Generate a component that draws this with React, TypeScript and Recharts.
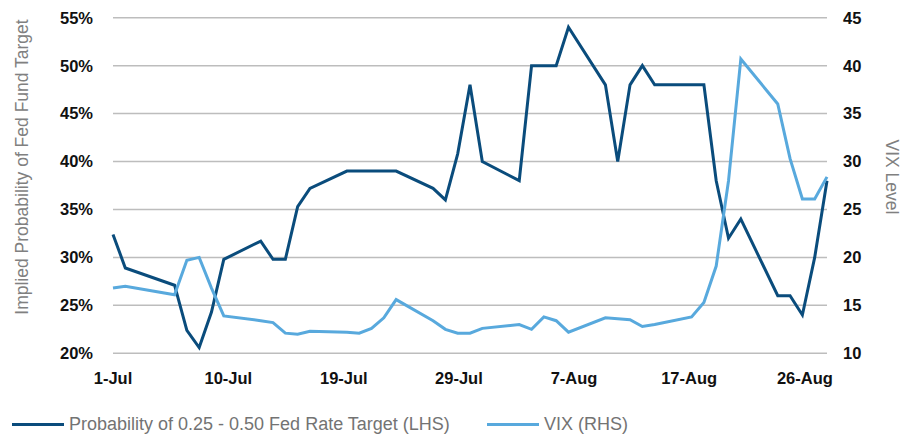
import React from 'react';
import { LineChart, Line, XAxis, YAxis, CartesianGrid, Legend } from 'recharts';

// Business days, 2015
const dates = [
  '2015-07-01', '2015-07-02', '2015-07-06', '2015-07-07', '2015-07-08', '2015-07-09', '2015-07-10',
  '2015-07-13', '2015-07-14', '2015-07-15', '2015-07-16', '2015-07-17',
  '2015-07-20', '2015-07-21', '2015-07-22', '2015-07-23', '2015-07-24',
  '2015-07-27', '2015-07-28', '2015-07-29', '2015-07-30', '2015-07-31',
  '2015-08-03', '2015-08-04', '2015-08-05', '2015-08-06', '2015-08-07',
  '2015-08-10', '2015-08-11', '2015-08-12', '2015-08-13', '2015-08-14',
  '2015-08-17', '2015-08-18', '2015-08-19', '2015-08-20', '2015-08-21',
  '2015-08-24', '2015-08-25', '2015-08-26', '2015-08-27', '2015-08-28',
];

// Probability of 0.25 - 0.50 Fed Rate Target (%), LHS
const fedProbability = [
  32.4, 28.9, 27.1, 22.4, 20.6, 24.3, 29.8,
  31.7, 29.8, 29.8, 35.3, 37.2,
  39.0, 39.0, 39.0, 39.0, 39.0,
  37.2, 36.0, 40.8, 48.0, 40.0,
  38.0, 50.0, 50.0, 50.0, 54.0,
  48.0, 40.0, 48.0, 50.0, 48.0,
  48.0, 48.0, 38.0, 32.0, 34.0,
  26.0, 26.0, 24.0, 30.0, 38.0,
];

// VIX level, RHS
const vixLevel = [
  16.8, 17.0, 16.1, 19.7, 20.0, 16.8, 13.9,
  13.4, 13.2, 12.1, 12.0, 12.3,
  12.2, 12.1, 12.6, 13.7, 15.6,
  13.4, 12.5, 12.1, 12.1, 12.6,
  13.0, 12.5, 13.8, 13.4, 12.2,
  13.7, 13.6, 13.5, 12.8, 13.0,
  13.8, 15.3, 19.1, 28.0, 40.7,
  36.0, 30.3, 26.1, 26.1, 28.4,
];

const xTickValues = [0, 9.37, 18.75, 28.1, 37.45, 46.8, 56.2];
const xTickLabels = ['1-Jul', '10-Jul', '19-Jul', '29-Jul', '7-Aug', '17-Aug', '26-Aug'];
const leftTicks = [20, 25, 30, 35, 40, 45, 50, 55];
const rightTicks = [10, 15, 20, 25, 30, 35, 40, 45];

const seriesNames = ['Probability of 0.25 - 0.50 Fed Rate Target (LHS)', 'VIX (RHS)'];
const leftTitle = 'Implied Probability of Fed Fund Target';
const rightTitle = 'VIX Level';

const DAY_MS = 86400000;
const startMs = Date.parse(dates[0]);
const data = dates.map((d, i) => ({
  day: (Date.parse(d) - startMs) / DAY_MS,
  fed: fedProbability[i],
  vix: vixLevel[i],
}));

const FONT = '"Liberation Sans", Arial, Helvetica, sans-serif';
const DARK = '#0a4c7c';
const LIGHT = '#58a9dd';
const TITLE_COLOR = '#808080';

const tickStyle = { fontFamily: FONT, fontSize: 16.5, fontWeight: 700, fill: '#111111' };

const renderLegend = (props: any) => {
  const payload = props.payload || [];
  const lefts = [12, 487];
  return (
    <div style={{ position: 'relative', width: 912, height: 24 }}>
      {payload.map((p: any, i: number) => (
        <div
          key={i}
          style={{ position: 'absolute', left: lefts[i], top: 0, height: 24, display: 'flex', alignItems: 'center' }}
        >
          <span style={{ display: 'inline-block', width: 52, height: 3, background: p.color, marginRight: 5 }} />
          <span style={{ fontFamily: FONT, fontSize: 18, color: '#737373', whiteSpace: 'nowrap' }}>{p.value}</span>
        </div>
      ))}
    </div>
  );
};

export default function App() {
  return (
    <div style={{ position: 'absolute', left: 0, top: 0, width: 912, height: 436, background: '#ffffff' }}>
      <LineChart width={912} height={436} data={data} margin={{ top: 17.7, right: 0, bottom: 0, left: 0 }}>
        <CartesianGrid vertical={false} stroke="#bdbdbd" strokeWidth={1.5} yAxisId="left" />
        <XAxis
          dataKey="day"
          type="number"
          domain={[0, 58]}
          ticks={xTickValues}
          interval={0}
          tickFormatter={(v: number, i: number) => xTickLabels[i]}
          axisLine={false}
          tickLine={false}
          tickSize={6}
          tickMargin={13}
          height={82.7}
          tick={tickStyle}
        />
        <YAxis
          yAxisId="left"
          orientation="left"
          domain={[20, 55]}
          ticks={leftTicks}
          interval={0}
          tickFormatter={(v: number) => `${v}%`}
          axisLine={false}
          tickLine={false}
          tickSize={6}
          tickMargin={14}
          width={113}
          tick={tickStyle}
          label={{
            content: () => (
              <text
                x={21.5}
                y={167}
                transform="rotate(-90 21.5 167)"
                textAnchor="middle"
                dominantBaseline="central"
                style={{ fontFamily: FONT, fontSize: 17.5, fill: TITLE_COLOR }}
              >
                {leftTitle}
              </text>
            ),
          }}
        />
        <YAxis
          yAxisId="right"
          orientation="right"
          domain={[10, 45]}
          ticks={rightTicks}
          interval={0}
          axisLine={false}
          tickLine={false}
          tickSize={6}
          tickMargin={10}
          width={85}
          tick={tickStyle}
          label={{
            content: () => (
              <text
                x={892}
                y={177}
                transform="rotate(90 892 177)"
                textAnchor="middle"
                dominantBaseline="central"
                style={{ fontFamily: FONT, fontSize: 17.5, fill: TITLE_COLOR }}
              >
                {rightTitle}
              </text>
            ),
          }}
        />
        <Legend
          verticalAlign="middle"
          align="center"
          layout="horizontal"
          wrapperStyle={{ top: 412, left: 0, width: 912, height: 24 }}
          content={renderLegend}
        />
        <Line
          yAxisId="left"
          type="linear"
          dataKey="fed"
          name={seriesNames[0]}
          stroke={DARK}
          strokeWidth={3}
          dot={false}
          isAnimationActive={false}
        />
        <Line
          yAxisId="right"
          type="linear"
          dataKey="vix"
          name={seriesNames[1]}
          stroke={LIGHT}
          strokeWidth={3}
          dot={false}
          isAnimationActive={false}
        />
      </LineChart>
    </div>
  );
}
